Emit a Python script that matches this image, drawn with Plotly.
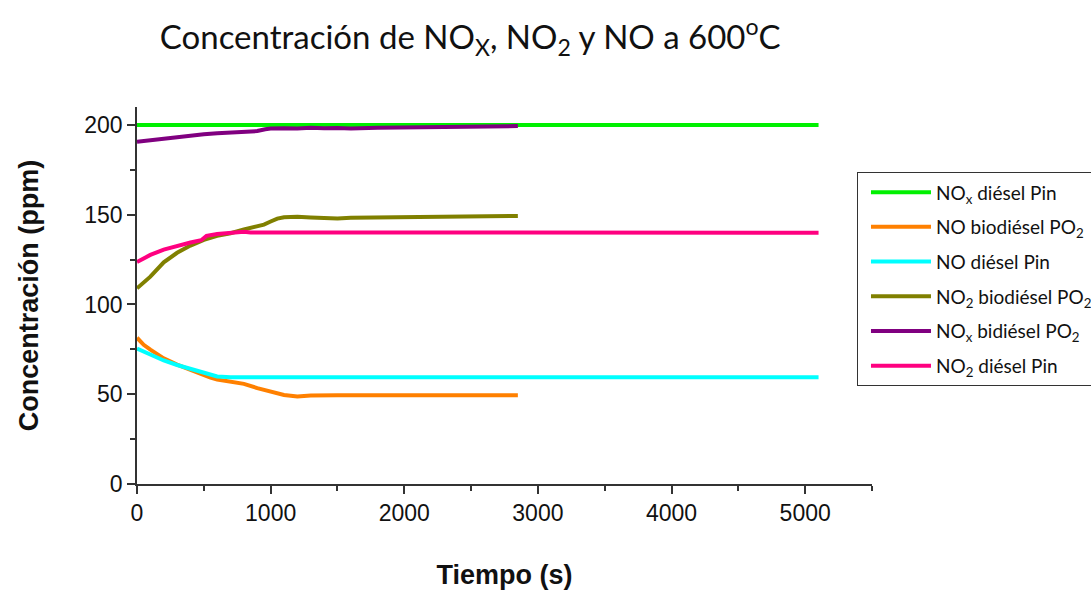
import plotly.graph_objects as go

# Time axes (s) and concentrations (ppm) for each series
t_nox_diesel = [0, 1000, 2000, 3000, 4000, 5100]
nox_diesel = [200, 200, 200, 200, 200, 200]

t_no_bio = [0, 50, 100, 200, 300, 400, 500, 550, 600, 700, 800, 900, 1000,
            1100, 1200, 1300, 1500, 2000, 2500, 2850]
no_bio = [81.5, 77.5, 74.8, 70.0, 66.5, 63.4, 60.5, 59.2, 58.2, 57.2, 55.8,
          53.4, 51.3, 49.6, 48.8, 49.3, 49.4, 49.4, 49.4, 49.4]

t_no_diesel = [0, 100, 200, 300, 400, 500, 600, 700, 800, 2000, 3500, 5100]
no_diesel = [75.5, 72.0, 68.8, 66.3, 64.3, 61.8, 59.9, 59.4, 59.4, 59.4,
             59.4, 59.4]

t_no2_bio = [0, 50, 100, 200, 300, 400, 500, 600, 700, 800, 900, 950, 1000,
             1050, 1100, 1200, 1300, 1400, 1500, 1600, 1800, 2000, 2200,
             2400, 2600, 2850]
no2_bio = [109.0, 112.0, 115.5, 123.5, 128.8, 132.8, 136.0, 138.2, 139.7,
           141.8, 143.5, 144.5, 146.2, 147.8, 148.6, 148.8, 148.4, 148.2,
           147.9, 148.3, 148.4, 148.6, 148.8, 149.0, 149.1, 149.3]

t_nox_bio = [0, 100, 200, 300, 400, 500, 600, 700, 800, 900, 960, 1000,
             1100, 1200, 1300, 1400, 1500, 1600, 1800, 2000, 2200, 2400,
             2600, 2850]
nox_bio = [190.7, 191.6, 192.5, 193.3, 194.1, 194.8, 195.4, 195.9, 196.3,
           196.6, 197.6, 198.0, 198.2, 198.0, 198.5, 198.1, 198.3, 198.0,
           198.4, 198.6, 198.9, 199.2, 199.3, 199.4]

t_no2_diesel = [0, 100, 200, 300, 400, 480, 520, 600, 700, 800, 850, 2000,
                3500, 5100]
no2_diesel = [123.7, 127.6, 130.6, 132.8, 134.5, 135.8, 138.2, 139.2, 140.0,
              140.5, 140.1, 140.0, 140.0, 140.0]

series = [
    ("NO<sub>x</sub> diésel Pin", t_nox_diesel, nox_diesel, "#00f000"),
    ("NO biodiésel PO<sub>2</sub>", t_no_bio, no_bio, "#ff8000"),
    ("NO diésel Pin", t_no_diesel, no_diesel, "#00ffff"),
    ("NO<sub>2</sub> biodiésel PO<sub>2</sub>", t_no2_bio, no2_bio, "#808000"),
    ("NO<sub>x</sub> bidiésel PO<sub>2</sub>", t_nox_bio, nox_bio, "#800080"),
    ("NO<sub>2</sub> diésel Pin", t_no2_diesel, no2_diesel, "#ff0080"),
]

fig = go.Figure()
for i, (name, t, v, color) in enumerate(series):
    fig.add_trace(go.Scatter(x=t, y=v, mode="lines", name=name,
                             legendgroup=f"g{i}",
                             line=dict(color=color, width=4)))

axis_common = dict(
    showline=True, linecolor="#333333", linewidth=1.5,
    ticks="outside", ticklen=8, tickwidth=1.5, tickcolor="#333333",
    showgrid=False, zeroline=False, automargin=False,
    tickfont=dict(family="Liberation Sans, Arial", size=23, color="#111111"),
)

fig.update_layout(
    width=1091, height=590,
    paper_bgcolor="white", plot_bgcolor="white",
    margin=dict(l=137, r=219, t=107, b=106, autoexpand=False),
    title=dict(
        text="Concentración de NO<sub>X</sub>, NO<sub>2</sub> y NO a 600<sup>o</sup>C",
        x=0.431, xanchor="center", y=0.937, yanchor="middle",
        font=dict(family="Lato, Open Sans", size=33, color="#111111"),
    ),
    xaxis=dict(
        range=[0, 5500], dtick=1000,
        minor=dict(dtick=500, ticks="outside", ticklen=5, tickwidth=1.5,
                   tickcolor="#333333"),
        title=dict(text="<b>Tiempo (s)</b>", standoff=42,
                   font=dict(family="Liberation Sans, Arial", size=27,
                             color="#111111")),
        **axis_common,
    ),
    yaxis=dict(
        range=[0, 210], tickvals=[0, 50, 100, 150, 200],
        minor=dict(tickvals=[25, 75, 125, 175], ticks="outside", ticklen=5,
                   tickwidth=1.5, tickcolor="#333333"),
        title=dict(text="<b>Concentración (ppm)</b>", standoff=38,
                   font=dict(family="Liberation Sans, Arial", size=27,
                             color="#111111")),
        **axis_common,
    ),
    legend=dict(
        xref="container", yref="container",
        x=0.7855, xanchor="left", y=0.708, yanchor="top",
        bordercolor="#333333", borderwidth=1, bgcolor="white",
        font=dict(family="Lato, Open Sans", size=19, color="#111111"),
        itemwidth=60, indentation=8, tracegroupgap=7,
    ),
)

fig.write_html("out.html")
